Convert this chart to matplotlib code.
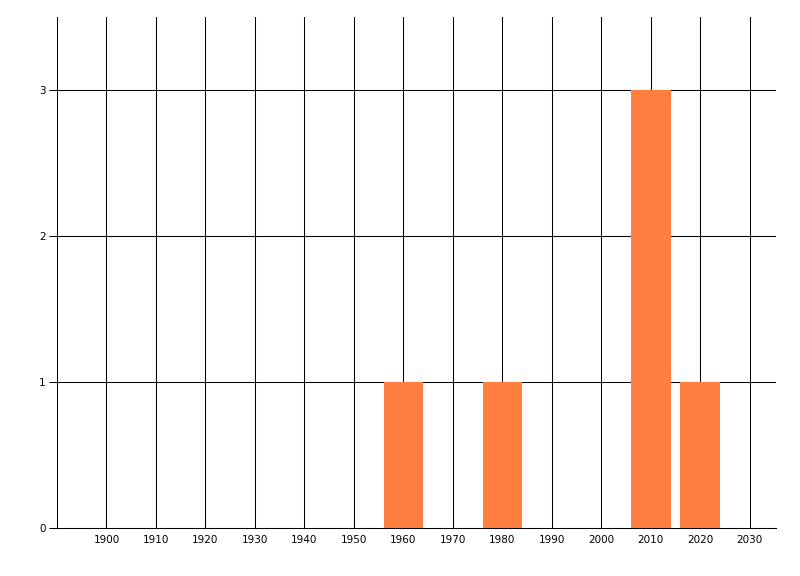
import matplotlib
matplotlib.use("Agg")
import matplotlib.pyplot as plt

# decades and counts
years = [1960, 1980, 2010, 2020]
counts = [1, 1, 3, 1]
xticks = list(range(1900, 2031, 10))
yticks = [0, 1, 2, 3]

fig = plt.figure(figsize=(8, 5.76), dpi=100)
ax = fig.add_axes([57 / 800, 1 - 528 / 576, (776 - 57) / 800, (528 - 17) / 576])

lw = 0.75
for x in xticks:
    ax.axvline(x, color="black", lw=lw, zorder=1)
for y in yticks[1:]:
    ax.axhline(y, color="black", lw=lw, zorder=1)

ax.bar(years, counts, width=8, color="#FF7F41", zorder=2)

ax.set_xlim(1890, 2035.3)
ax.set_ylim(0, 3.5)
ax.set_xticks(xticks)
ax.set_xticklabels([str(x) for x in xticks])
ax.set_yticks(yticks)
ax.set_yticklabels([str(y) for y in yticks])

for s in ["top", "right"]:
    ax.spines[s].set_visible(False)
for s in ["left", "bottom"]:
    ax.spines[s].set_linewidth(lw)
    ax.spines[s].set_zorder(3)

ax.tick_params(axis="x", length=0, pad=5, labelsize=7.5)
ax.tick_params(axis="y", length=6, width=lw, pad=2, labelsize=7.5)

fig.savefig("out.png", dpi=100)
